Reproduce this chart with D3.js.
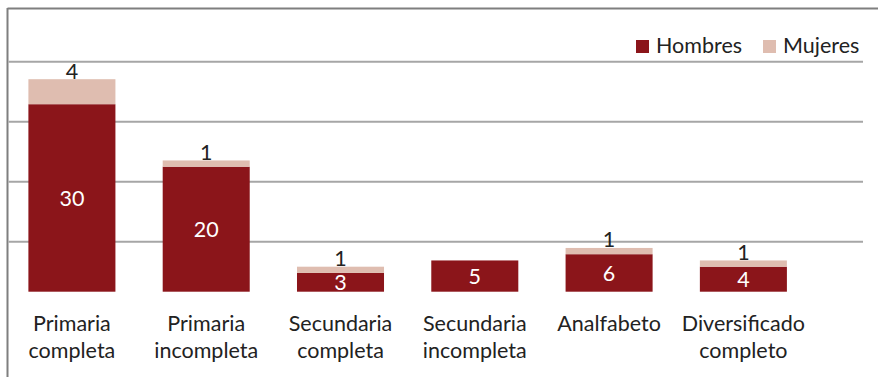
<!DOCTYPE html>
<html>
<head>
<meta charset="utf-8">
<script src="https://cdn.jsdelivr.net/npm/d3@7"></script>
<style>
  html, body { margin: 0; padding: 0; background: #fff; }
  svg { display: block; font-family: Lato, "Noto Sans", sans-serif; }
</style>
</head>
<body>
<svg id="chart" width="878" height="377"></svg>
<script>
// Education level by sex
const categories = [
  ["Primaria", "completa"],
  ["Primaria", "incompleta"],
  ["Secundaria", "completa"],
  ["Secundaria", "incompleta"],
  ["Analfabeto"],
  ["Diversificado", "completo"]
];
const hombres = [30, 20, 3, 5, 6, 4];
const mujeres = [4, 1, 1, 0, 1, 1];
const seriesNames = ["Hombres", "Mujeres"];
const gridTicks = [10, 20, 30, 40];

const colors = { Hombres: "#8b151a", Mujeres: "#dfbdb0" };

const svg = d3.select("#chart");
const W = 878, H = 377;

const keys = categories.map(c => c.join(" "));

const x = d3.scaleBand()
  .domain(keys)
  .range([28.4, 786.9])
  .paddingInner(0.352)
  .paddingOuter(0);

// bar value scale
const y = d3.scaleLinear().domain([0, 36.8]).range([291.7, 61.7]);
// horizontal grid scale
const yGrid = d3.scaleLinear().domain([0, 40]).range([301.7, 61.7]);

// frame
svg.append("line")
  .attr("x1", 7.5).attr("x2", W).attr("y1", 8.5).attr("y2", 8.5)
  .attr("stroke", "#7f7f7f").attr("stroke-width", 2);
svg.append("line")
  .attr("x1", 7.5).attr("x2", 7.5).attr("y1", 8).attr("y2", H)
  .attr("stroke", "#7f7f7f").attr("stroke-width", 2);

// gridlines
svg.append("g")
  .selectAll("line")
  .data(gridTicks)
  .join("line")
  .attr("x1", 8.5).attr("x2", 863)
  .attr("y1", d => yGrid(d)).attr("y2", d => yGrid(d))
  .attr("stroke", "#a6a6a6").attr("stroke-width", 2);

const rows = keys.map((k, i) => ({ key: k, h: hombres[i], m: mujeres[i] }));
const stack = d3.stack().keys(["h", "m"])(rows);

// stacked bars
svg.append("g")
  .selectAll("g")
  .data(stack)
  .join("g")
  .attr("fill", (d, i) => colors[seriesNames[i]])
  .selectAll("rect")
  .data(d => d.filter(s => s[1] - s[0] > 0))
  .join("rect")
  .attr("x", d => x(d.data.key))
  .attr("width", x.bandwidth())
  .attr("y", d => y(d[1]))
  .attr("height", d => y(d[0]) - y(d[1]));

// value labels: Hombres centred inside the segment
svg.append("g")
  .selectAll("text")
  .data(rows)
  .join("text")
  .attr("x", d => x(d.key) + x.bandwidth() / 2)
  .attr("y", d => (y(0) + y(d.h)) / 2)
  .attr("dy", "0.36em")
  .attr("text-anchor", "middle")
  .attr("font-size", 21.5)
  .attr("fill", "#fff")
  .text(d => d.h);

// value labels: Mujeres sitting on the top edge
svg.append("g")
  .selectAll("text")
  .data(rows.filter(d => d.m > 0))
  .join("text")
  .attr("x", d => x(d.key) + x.bandwidth() / 2)
  .attr("y", d => y(d.h + d.m) - 0.5)
  .attr("text-anchor", "middle")
  .attr("font-size", 21.5)
  .attr("fill", "#222")
  .text(d => d.m);

// category labels
const xl = svg.append("g")
  .selectAll("text")
  .data(categories)
  .join("text")
  .attr("text-anchor", "middle")
  .attr("font-size", 21.5)
  .attr("fill", "#222");
xl.selectAll("tspan")
  .data((d, i) => d.map((t, j) => ({ t, j, k: keys[i] })))
  .join("tspan")
  .attr("x", d => x(d.k) + x.bandwidth() / 2)
  .attr("y", d => 331 + d.j * 27)
  .text(d => d.t);

// legend
const legendPos = [636, 763];
const lg = svg.append("g")
  .selectAll("g")
  .data(seriesNames)
  .join("g")
  .attr("transform", (d, i) => `translate(${legendPos[i]},40)`);
lg.append("rect")
  .attr("width", 13).attr("height", 13)
  .attr("fill", d => colors[d]);
lg.append("text")
  .attr("x", 20).attr("y", 13.3)
  .attr("font-size", 21.5)
  .attr("fill", "#222")
  .text(d => d);
</script>
</body>
</html>
